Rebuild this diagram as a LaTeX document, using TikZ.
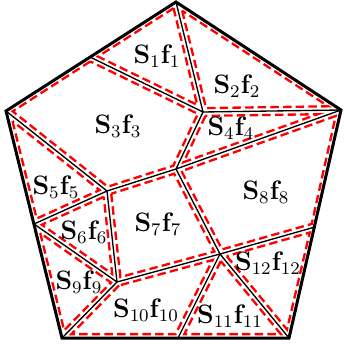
\documentclass[tikz,border=0pt]{standalone}
\usetikzlibrary{calc}
\newcommand\insetd{1.75pt}
\newcommand\iv[4]{%
  \coordinate (ta) at ($(#1)!\insetd!90:(#2)$);
  \coordinate (tb) at ($(#2)!\insetd!-90:(#1)$);
  \coordinate (tc) at ($(#2)!\insetd!90:(#3)$);
  \coordinate (td) at ($(#3)!\insetd!-90:(#2)$);
  \coordinate (#4) at (intersection of ta--tb and tc--td);}
\newcommand\tricell[4]{%
  \iv{#3}{#1}{#2}{#4a}\iv{#1}{#2}{#3}{#4b}\iv{#2}{#3}{#1}{#4c}%
  \draw[reddash] (#4a)--(#4b)--(#4c)--cycle;}
\newcommand\quadcell[5]{%
  \iv{#4}{#1}{#2}{#5a}\iv{#1}{#2}{#3}{#5b}\iv{#2}{#3}{#4}{#5c}\iv{#3}{#4}{#1}{#5d}%
  \draw[reddash] (#5a)--(#5b)--(#5c)--(#5d)--cycle;}
\newcommand\pentcell[6]{%
  \iv{#5}{#1}{#2}{#6a}\iv{#1}{#2}{#3}{#6b}\iv{#2}{#3}{#4}{#6c}\iv{#3}{#4}{#5}{#6d}\iv{#4}{#5}{#1}{#6e}%
  \draw[reddash] (#6a)--(#6b)--(#6c)--(#6d)--(#6e)--cycle;}
\begin{document}
\begin{tikzpicture}[x=0.45pt,y=-0.45pt,
  outer/.style={line width=1.35pt, line join=miter},
  inner/.style={line width=0.6pt},
  reddash/.style={red, line width=1.05pt, dash pattern=on 3.8pt off 1.9pt},
  lab/.style={inner sep=0pt, font=\fontsize{12pt}{14pt}\selectfont}]
\useasboundingbox (0,0) rectangle (344,350);
% vertices
\coordinate (T) at (176,2);
\coordinate (R) at (341,110);
\coordinate (BR) at (289,338);
\coordinate (BL) at (62,338);
\coordinate (L) at (6,111);
\coordinate (A) at (90,57);
\coordinate (B) at (203,112);
\coordinate (C) at (176,169);
\coordinate (D) at (107,191);
\coordinate (E) at (117,282);
\coordinate (F) at (34,224);
\coordinate (G) at (220,254);
\coordinate (H) at (315,227);
\coordinate (K) at (178,338);
% inner edges
\draw[inner] (T)--(B) (A)--(B) (B)--(R) (B)--(C) (C)--(R) (L)--(D) (D)--(C)
  (D)--(F) (D)--(E) (F)--(E) (E)--(BL) (E)--(G) (G)--(H) (G)--(BR) (G)--(K) (C)--(G);
% outer pentagon
\draw[outer] (T)--(L)--(BL)--(BR)--(R)--cycle;
% inset cells
\tricell{T}{A}{B}{ca}
\tricell{T}{B}{R}{cb}
\pentcell{A}{L}{D}{C}{B}{cc}
\tricell{B}{C}{R}{cd}
\tricell{L}{F}{D}{ce}
\tricell{D}{F}{E}{cf}
\quadcell{D}{E}{G}{C}{cg}
\quadcell{C}{G}{H}{R}{ch}
\tricell{F}{BL}{E}{ci}
\quadcell{E}{BL}{K}{G}{cj}
\tricell{G}{K}{BR}{ck}
\tricell{G}{BR}{H}{cl}
% labels
\node[lab] (l1) at (157,56) {$\mathbf{S}_1\mathbf{f}_1$};
\node[lab] (l2) at (237,86) {$\mathbf{S}_2\mathbf{f}_2$};
\node[lab] (l3) at (118,126) {$\mathbf{S}_3\mathbf{f}_3$};
\node[lab] (l4) at (231,128) {$\mathbf{S}_4\mathbf{f}_4$};
\node[lab] (l5) at (56,187) {$\mathbf{S}_5\mathbf{f}_5$};
\node[lab] (l6) at (84,232) {$\mathbf{S}_6\mathbf{f}_6$};
\node[lab] (l7) at (158,224) {$\mathbf{S}_7\mathbf{f}_7$};
\node[lab] (l8) at (266,192) {$\mathbf{S}_8\mathbf{f}_8$};
\node[lab] (l9) at (79,282) {$\mathbf{S}_9\mathbf{f}_9$};
\node[lab] (l10) at (146,310) {$\mathbf{S}_{10}\mathbf{f}_{10}$};
\node[lab] (l11) at (230,316) {$\mathbf{S}_{11}\mathbf{f}_{11}$};
\node[lab] (l12) at (268,263) {$\mathbf{S}_{12}\mathbf{f}_{12}$};
\end{tikzpicture}
\end{document}
